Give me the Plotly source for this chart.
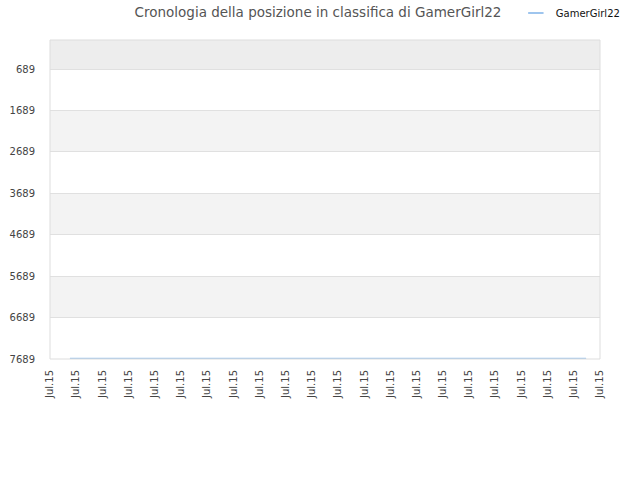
import plotly.graph_objects as go

# rank history for GamerGirl22 (all readings taken on Jul.15)
tick_labels = ["Jul.15"] * 22
tick_pos = list(range(22))
rank_x = [0.76, 4.0, 8.0, 12.0, 16.0, 20.47]
rank_y = [7675, 7675, 7675, 7675, 7675, 7675]
y_ticks = [689, 1689, 2689, 3689, 4689, 5689, 6689, 7689]
y_top = -11

line_color = "#9ec5ee"

fig = go.Figure()
fig.add_trace(go.Scatter(
    x=rank_x, y=rank_y, mode="lines", name="GamerGirl22",
    line=dict(color=line_color, width=1.5), showlegend=False,
    legendgroup="g",
))
# short legend swatch like the original
fig.add_trace(go.Scatter(
    x=[None], y=[None], mode="markers", name="GamerGirl22",
    marker=dict(symbol="line-ew", size=11,
                line=dict(color=line_color, width=2)),
    legendgroup="g",
))

# alternating grey bands behind the plot
shapes = [dict(type="rect", xref="paper", yref="y", x0=0, x1=1,
               y0=y_top, y1=y_ticks[0], fillcolor="#ededed",
               line_width=0, layer="below")]
for i in range(1, len(y_ticks) - 1, 2):
    shapes.append(dict(type="rect", xref="paper", yref="y", x0=0, x1=1,
                       y0=y_ticks[i], y1=y_ticks[i + 1], fillcolor="#f3f3f3",
                       line_width=0, layer="below"))
shapes.append(dict(type="rect", xref="paper", yref="paper", x0=0, x1=1,
                   y0=0, y1=1, line=dict(color="#dddddd", width=1)))

fig.update_layout(
    width=640, height=480,
    margin=dict(l=50, r=40, t=40, b=121, autoexpand=False),
    paper_bgcolor="white", plot_bgcolor="white",
    font=dict(family="DejaVu Sans", size=10, color="#333"),
    title=dict(text="Cronologia della posizione in classifica di GamerGirl22",
               x=318 / 640, xanchor="center", y=0.975, yanchor="middle",
               font=dict(family="DejaVu Sans", size=13.5, color="#555")),
    showlegend=True,
    legend=dict(x=0.847, xanchor="left", y=1.085, yanchor="middle",
                font=dict(size=10, color="#111"), itemwidth=30,
                bgcolor="rgba(0,0,0,0)"),
    shapes=shapes,
    xaxis=dict(range=[0, 21], tickvals=tick_pos, ticktext=tick_labels,
               tickangle=-90, showgrid=False, zeroline=False,
               ticks="", ticklabelstandoff=8,
               tickfont=dict(size=10, color="#444")),
    yaxis=dict(range=[7689, y_top], tickvals=y_ticks, showgrid=True,
               gridcolor="#e0e0e0", zeroline=False, ticks="",
               ticklabelstandoff=14,
               tickfont=dict(size=10, color="#444")),
)

# drop the default 8px page margin so the figure sits at the window corner
fig.write_html("out.html", config={"displayModeBar": False},
               post_script="document.body.style.margin='0';")
